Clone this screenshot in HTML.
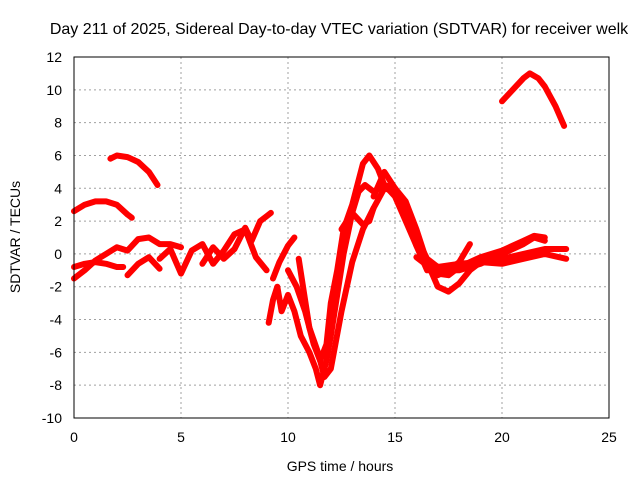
<!DOCTYPE html>
<html><head><meta charset="utf-8"><style>
body{margin:0;background:#fff}
svg{display:block;font-family:"Liberation Sans",sans-serif}
</style></head><body>
<svg id="chart" width="640" height="480">
<text x="339" y="34" text-anchor="middle" font-size="16">Day 211 of 2025, Sidereal Day-to-day VTEC variation (SDTVAR) for receiver welk</text>
<g id="grid"></g>
<g id="ticks"></g>
<g id="series"></g>
<rect x="74" y="57" width="535" height="361" fill="none" stroke="#000"/>
<text x="340" y="471" text-anchor="middle" font-size="14">GPS time / hours</text>
<text transform="translate(20,237) rotate(-90)" text-anchor="middle" font-size="14">SDTVAR / TECUs</text>
</svg>
<script>
const xTicks=[0,5,10,15,20,25];
const yTicks=[-10,-8,-6,-4,-2,0,2,4,6,8,10,12];
const track1=[[0,2.6],[0.5,3.0],[1,3.2],[1.5,3.2],[2,3.0],[2.5,2.4],[2.7,2.2]];
const track2=[[1.7,5.8],[2,6.0],[2.5,5.9],[3,5.6],[3.5,5.0],[3.9,4.2]];
const track3=[[20,9.3],[20.5,10.0],[21,10.7],[21.3,11.0],[21.7,10.7],[22,10.2],[22.5,9.0],[22.9,7.8]];
const track4=[[0,-0.8],[0.5,-0.6],[1,-0.5],[1.5,-0.6],[2,-0.8],[2.3,-0.8]];
const track5=[[0,-1.5],[0.5,-1.0],[1,-0.4],[1.5,0],[2,0.4],[2.5,0.2],[3,0.9],[3.5,1.0],[4,0.6],[4.5,0.6],[5,0.4]];
const track6=[[2.5,-1.3],[3,-0.6],[3.5,-0.2],[4,-0.9]];
const track7=[[4,-0.3],[4.5,0.3],[5,-1.2],[5.5,0.2],[6,0.6],[6.5,-0.6],[7,0.2],[7.5,1.2],[8,1.5],[8.5,-0.2],[9,-1.0]];
const track8=[[6,-0.6],[6.5,0.4],[7,-0.3],[7.5,0.3],[8,1.6],[8.3,0.8],[8.7,2.0],[9,2.3],[9.2,2.5]];
const track9=[[9.1,-4.2],[9.3,-2.8],[9.5,-2.0],[9.7,-3.5],[10,-2.5],[10.3,-3.5],[10.6,-5.0],[11,-6.0],[11.3,-7.0],[11.5,-8.0],[11.8,-6.5],[12,-5.0],[12.3,-2.5],[12.6,0],[13,2.5],[13.3,3.8],[13.6,4.2],[14,3.8],[14.5,4.2],[15,3.5],[15.5,2.0],[16,0.5],[16.5,-0.8],[17,-1.3],[17.5,-1.0],[18,-0.5],[18.5,0.6]];
const track10=[[9.3,-1.5],[9.6,-0.5],[10,0.5],[10.3,1.0]];
const track11=[[10,-1.0],[10.4,-2.0],[10.8,-3.5],[11.2,-5.5],[11.5,-6.5],[11.8,-5.5],[12,-3.0],[12.3,-1.0],[12.6,1.5],[13,3.0],[13.5,5.5],[13.8,6.0],[14.2,5.2],[14.5,4.2],[15,4.0],[15.5,3.2],[16,1.5],[16.5,-0.5],[17,-2.0],[17.5,-2.3],[18,-1.8],[18.5,-1.0],[19,-0.5],[20,-0.3],[21,0],[22,0.3],[23,0.3]];
const track12=[[10.5,-0.3],[11,-4.5],[11.4,-6.0],[11.7,-7.5],[12,-7.0],[12.5,-3.5],[13,-0.5],[13.5,1.5],[14,2.8],[14.5,4.0],[15,3.8],[15.5,2.5],[16,0.5],[16.5,-1.0],[17,-1.0],[18,-1.0],[19,-0.6],[20,0],[21,0.6],[21.5,1.0],[22,0.8]];
const track13=[[12.5,1.5],[13,2.5],[13.5,1.8],[13.8,2.0],[14,2.8]];
const track14=[[14,3.5],[14.5,5.0],[15,4.0],[15.5,2.8],[16,1.0],[16.5,-0.3],[17,-0.8],[18,-0.6],[19,-0.5],[20,-0.6],[21,-0.3],[22,0],[23,-0.3]];
const track15=[[16,-0.2],[17,-1.2],[17.5,-1.3],[18,-0.8],[19,-0.2],[20,0.2],[21,0.8],[21.5,1.1],[22,1.0]];
const tracks=[track1,track2,track3,track4,track5,track6,track7,track8,track9,track10,track11,track12,track13,track14,track15];
const NS="http://www.w3.org/2000/svg";
const X=v=>74+v*(535/25);
const Y=v=>418-(v+10)*(361/22);
const grid=document.getElementById('grid'),ticks=document.getElementById('ticks'),series=document.getElementById('series');
function mk(t,a,p){const e=document.createElementNS(NS,t);for(const k in a)e.setAttribute(k,a[k]);p.appendChild(e);return e;}
xTicks.forEach(v=>{
 if(v>0&&v<25){const l=mk('line',{x1:X(v),x2:X(v),y1:57,y2:418,stroke:'#a0a0a0','stroke-dasharray':'2,3'},grid);
 
 }
 const t=mk('text',{x:X(v),y:442,'text-anchor':'middle','font-size':14},ticks);t.textContent=v;
 
 
});
yTicks.forEach(v=>{
 if(v>-10&&v<12){const l=mk('line',{x1:74,x2:609,y1:Y(v),y2:Y(v),stroke:'#a0a0a0','stroke-dasharray':'2,3'},grid);
 
 }
 const t=mk('text',{x:62,y:Y(v)+5,'text-anchor':'end','font-size':14},ticks);t.textContent=v;
 
 
});
tracks.forEach(tr=>{
 const d=tr.map((p,i)=>(i?'L':'M')+X(p[0]).toFixed(1)+','+Y(p[1]).toFixed(1)).join('');
 const p=mk('path',{d:d,fill:'none',stroke:'#f00','stroke-width':6,'stroke-linejoin':'round','stroke-linecap':'round'},series);
 
 
});
</script>
</body></html>
